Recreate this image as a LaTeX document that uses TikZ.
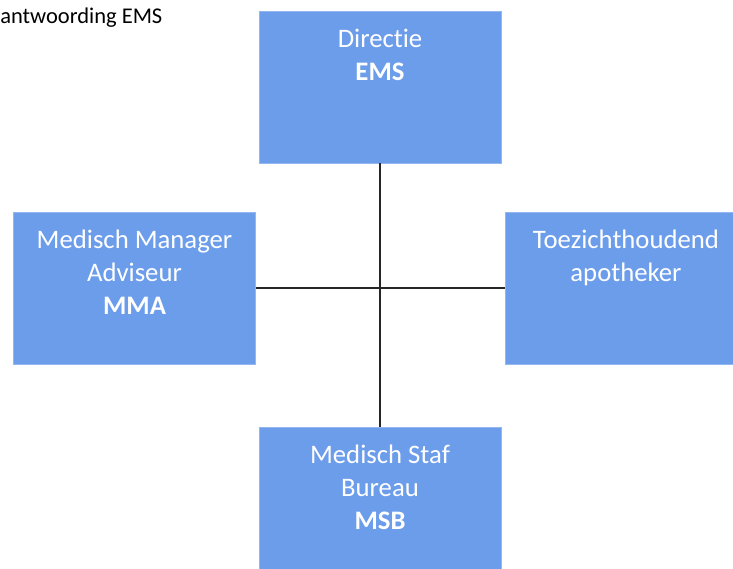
\documentclass[tikz,border=0pt]{standalone}
\usepackage{fontspec}
\setmainfont{Carlito}[Ligatures=NoCommon]
\definecolor{boxblue}{HTML}{6C9DEB}
\definecolor{boxedge}{HTML}{93B7F0}
\tikzset{
  unit/.style={draw=boxedge, line width=0.5pt, fill=boxblue, minimum width=6.05cm, minimum height=3.8cm, inner sep=0pt},
  unitname/.style={anchor=north, align=center, text=white, inner sep=0pt, font=\fontsize{19}{23.4}\selectfont},
  link/.style={line width=1.5pt, draw=black!85}
}
\begin{document}
\begin{tikzpicture}[x=0.025cm, y=-0.025cm]
    \clip (0, 0) rectangle (733, 569);
    \fill [white] (0, 0) rectangle (733, 569);
    \node [anchor=base west, inner sep=0pt, font=\fontsize{16}{18}\selectfont] (title) at (0, 24) {antwoording EMS};
    \node [unit] (dir) at (380, 87) {};
    \node [unit] (mma) at (134.5, 288) {};
    \node [unit] (toe) at (626, 288) {};
    \node [unit] (msb) at (380, 503) {};
    \draw [link] (dir) -- (msb);
    \draw [link] (mma) -- (toe);
    \node [unitname] (dirname) at ([yshift=-0.45cm]dir.north) {Directie\\\textbf{EMS}};
    \node [unitname] (mmaname) at ([yshift=-0.45cm]mma.north) {Medisch Manager\\Adviseur\\\textbf{MMA}};
    \node [unitname] (toename) at ([yshift=-0.45cm]toe.north) {Toezichthoudend\\apotheker};
    \node [unitname] (msbname) at ([yshift=-0.45cm]msb.north) {Medisch Staf\\Bureau\\\textbf{MSB}};
  \end{tikzpicture}
\end{document}
